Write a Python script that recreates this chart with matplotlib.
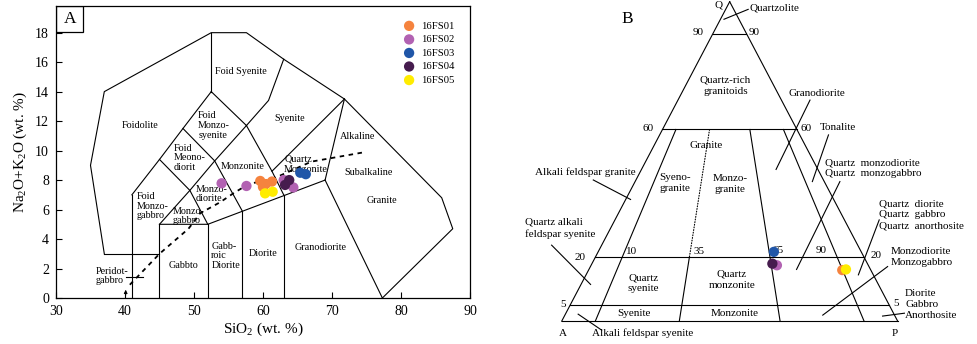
import matplotlib
matplotlib.use("Agg")
import matplotlib.pyplot as plt
from matplotlib.patches import Rectangle

plt.rcParams["font.family"] = ["Liberation Serif", "DejaVu Serif"]
plt.rcParams["mathtext.fontset"] = "custom"
plt.rcParams["mathtext.rm"] = "Liberation Serif"
plt.rcParams["mathtext.it"] = "Liberation Serif:italic"

samples = ["16FS01", "16FS02", "16FS03", "16FS04", "16FS05"]
colors  = ["#F5833E", "#B262B2", "#2056A8", "#461C4E", "#FFEC00"]

# TAS data (SiO2, Na2O+K2O) per sample
tas_sio2 = [
    [59.6, 60.4, 61.3, 60.0],
    [54.0, 57.6, 63.0, 64.4],
    [65.4, 66.2],
    [63.2, 63.8],
    [60.3, 61.4],
]
tas_alk = [
    [7.94, 7.73, 7.90, 7.53],
    [7.78, 7.60, 8.00, 7.50],
    [8.50, 8.40],
    [7.67, 8.00],
    [7.10, 7.21],
]

# QAP modal data (%)
qap_q = [16.0, 17.5, 21.7, 18.0, 16.2]
qap_a = [8.5, 27.2, 26.0, 28.3, 7.3]
qap_p = [75.5, 55.3, 52.3, 53.7, 76.5]

# TAS (Middlemost 1994, plutonic) field boundaries
tas_outline = [(37, 3), (35, 9), (37, 14), (52.5, 18), (57.6, 18), (63, 16.2),
               (71.8, 13.5), (85.9, 6.8), (87.5, 4.7), (77.3, 0)]
tas_lines = [
    [(41, 0), (41, 7)],
    [(37, 3), (45, 3)],
    [(45, 0), (45, 5)],
    [(52, 0), (52, 5)],
    [(57, 0), (57, 5.9)],
    [(63, 0), (63, 7)],
    [(45, 5), (52, 5), (69, 8)],
    [(69, 8), (77.3, 0)],
    [(69, 8), (71.8, 13.5)],
    [(57.6, 11.7), (61.3, 8.6), (63, 7)],
    [(61.3, 8.6), (71.8, 13.5)],
    [(57.6, 11.7), (60.8, 13.4), (63, 16.2)],
    [(52.5, 14), (52.5, 18)],
    [(52.5, 14), (57.6, 11.7)],
    [(52.5, 14), (48.4, 11.5), (45, 9.4), (41, 7)],
    [(48.4, 11.5), (53, 9.3), (57, 5.9)],
    [(57.6, 11.7), (53, 9.3), (49.4, 7.3), (45, 5)],
    [(45, 9.4), (49.4, 7.3), (52, 5)],
    [(40.2, 1.4), (42.6, 1.4)],
]
# alkaline / subalkaline divide
div_x = [40.7, 45.0, 49.2, 50.9, 53.8, 55.7, 57.1, 58.6, 61.5, 67.0, 74.8]
div_y = [0.9, 3.0, 4.7, 5.75, 6.5, 7.1, 7.5, 7.8, 8.1, 9.25, 9.9]

fig = plt.figure(figsize=(9.78, 3.44), dpi=100)

# ---------------- panel A : TAS ----------------
ax = fig.add_axes([56 / 978, 1 - 298 / 344, 414 / 978, 292 / 344])
ax.set_xlim(30, 90)
ax.set_ylim(0, 19.81)

ox, oy = zip(*tas_outline)
ax.plot(ox, oy, color="k", lw=0.8)
for seg in tas_lines:
    sx, sy = zip(*seg)
    ax.plot(sx, sy, color="k", lw=0.8)
ax.plot(div_x, div_y, color="k", lw=1.3, dashes=(2.5, 2.5))
ax.annotate("", xy=(40.1, 0.75), xytext=(40.1, 0.0),
            arrowprops=dict(arrowstyle="-|>", lw=0.7, color="k", mutation_scale=5))

fs = 7.3
lab = dict(fontsize=fs, va="center", linespacing=1.1)
ax.text(56.8, 15.4, "Foid Syenite", ha="center", **lab)
ax.text(42.2, 11.7, "Foidolite", ha="center", **lab)
ax.text(50.6, 11.7, "Foid\nMonzo-\nsyenite", ha="left", **lab)
ax.text(63.8, 12.2, "Syenite", ha="center", **lab)
ax.text(47.1, 9.5, "Foid\nMeono-\ndiorit", ha="left", **lab)
ax.text(57.1, 8.94, "Monzonite", ha="center", **lab)
ax.text(65.1, 9.42, "Quartz", ha="center", **lab)
ax.text(66.2, 8.72, "Monzonite", ha="center", **lab)
ax.text(73.7, 10.97, "Alkaline", ha="center", **lab)
ax.text(75.3, 8.5, "Subalkaline", ha="center", **lab)
ax.text(77.2, 6.63, "Granite", ha="center", **lab)
ax.text(68.4, 3.42, "Granodiorite", ha="center", **lab)
ax.text(60.0, 3.0, "Diorite", ha="center", **lab)
ax.text(52.5, 2.85, "Gabb-\nroic\nDiorite", ha="left", **lab)
ax.text(48.45, 2.2, "Gabbto", ha="center", **lab)
ax.text(35.8, 1.5, "Peridot-\ngabbro", ha="left", **lab)
ax.text(41.7, 6.24, "Foid\nMonzo-\ngabbro", ha="left", **lab)
ax.text(50.2, 7.06, "Monzo-\ndiorite", ha="left", **lab)
ax.text(46.9, 5.56, "Monzo-\ngabbro", ha="left", **lab)

for i in range(len(samples)):
    ax.scatter(tas_sio2[i], tas_alk[i], s=55, color=colors[i], edgecolors="none",
               label=samples[i], zorder=3 + i)

ax.legend(loc="upper left", bbox_to_anchor=(0.84, 0.948), frameon=False,
          fontsize=7.7, handlelength=1.0, handletextpad=0.6, labelspacing=0.38,
          borderpad=0, borderaxespad=0)

ax.set_xticks(range(30, 91, 10))
ax.set_yticks(range(0, 19, 2))
ax.tick_params(direction="in", length=4, width=0.8, labelsize=10, pad=5)
for sp in ax.spines.values():
    sp.set_linewidth(0.9)
ax.set_xlabel("SiO$_2$ (wt. %)", fontsize=11, labelpad=2)
ax.set_ylabel("Na$_2$O+K$_2$O (wt. %)", fontsize=11, labelpad=4)

ax.add_patch(Rectangle((0, 0.911), 0.065, 0.089, transform=ax.transAxes,
                       fill=False, lw=0.9, ec="k"))
ax.text(0.033, 0.955, "A", transform=ax.transAxes, ha="center", va="center",
        fontsize=12.5)

# ---------------- panel B : QAP ----------------
bx = fig.add_axes([500 / 978, 0, 478 / 978, 1])
bx.set_xlim(-0.1836, 1.239)
bx.set_ylim(-0.0714, 1.0053)
bx.axis("off")


def tern(q, a, p):
    s = q + a + p
    return (p + q / 2) / s, q / s


def qr(q, r):
    # point at quartz q (%) and plagioclase ratio r = P/(A+P)
    p = (100 - q) * r
    return tern(q, 100 - q - p, p)


def seg(q0, r0, q1, r1, **kw):
    x0, y0 = qr(q0, r0)
    x1, y1 = qr(q1, r1)
    bx.plot([x0, x1], [y0, y1], color="k", lw=0.8, **kw)


seg(100, 0, 0, 0)
seg(100, 1, 0, 1)
seg(0, 0, 0, 1)
for qq in [90, 60, 20, 5]:
    seg(qq, 0, qq, 1)
seg(60, 0.10, 0, 0.10)
seg(60, 0.35, 20, 0.35, linestyle=(0, (0.8, 1.6)), dash_capstyle="round")
seg(20, 0.35, 0, 0.35)
seg(60, 0.65, 0, 0.65)
seg(60, 0.90, 0, 0.90)

bl = dict(fontsize=8, va="center", linespacing=1.3)
bx.text(0.466, 1.004, "Q", ha="center", fontsize=8, va="top")
bx.text(0.003, -0.038, "A", ha="center", **bl)
bx.text(0.990, -0.038, "P", ha="center", **bl)
bx.text(0.196, 0.946, "B", ha="center", va="center", fontsize=12.5)

bx.text(0.558, 0.979, "Quartzolite", ha="left", **bl)
bx.text(0.407, 0.904, "90", ha="center", **bl)
bx.text(0.572, 0.904, "90", ha="center", **bl)
bx.text(0.256, 0.604, "60", ha="center", **bl)
bx.text(0.726, 0.604, "60", ha="center", **bl)
bx.text(0.054, 0.200, "20", ha="center", **bl)
bx.text(0.937, 0.207, "20", ha="center", **bl)
bx.text(0.003, 0.051, "5", ha="center", **bl)
bx.text(0.996, 0.056, "5", ha="center", **bl)
bx.text(0.208, 0.218, "10", ha="center", **bl)
bx.text(0.410, 0.218, "35", ha="center", **bl)
bx.text(0.645, 0.221, "65", ha="center", **bl)
bx.text(0.772, 0.221, "90", ha="center", **bl)

bx.text(0.487, 0.737, "Quartz-rich\ngranitoids", ha="center", **bl)
bx.text(0.759, 0.713, "Granodiorite", ha="center", **bl)
bx.text(0.767, 0.607, "Tonalite", ha="left", **bl)
bx.text(0.429, 0.549, "Granite", ha="center", **bl)
bx.text(0.337, 0.432, "Syeno-\ngranite", ha="center", **bl)
bx.text(0.501, 0.428, "Monzo-\ngranite", ha="center", **bl)
bx.text(0.069, 0.465, "Alkali feldspar granite", ha="center", **bl)
bx.text(-0.109, 0.291, "Quartz alkali\nfeldspar syenite", ha="left", **bl)
bx.text(0.784, 0.479, "Quartz  monzodiorite\nQuartz  monzogabbro", ha="left", **bl)
bx.text(0.945, 0.333, "Quartz  diorite\nQuartz  gabbro\nQuartz  anorthosite",
        ha="left", **bl)
bx.text(0.980, 0.202, "Monzodiorite\nMonzogabbro", ha="left", **bl)
bx.text(1.022, 0.051, "Diorite\nGabbro\nAnorthosite", ha="left", **bl)
bx.text(0.243, 0.119, "Quartz\nsyenite", ha="center", **bl)
bx.text(0.506, 0.129, "Quartz\nmonzonite", ha="center", **bl)
bx.text(0.216, 0.023, "Syenite", ha="center", **bl)
bx.text(0.514, 0.023, "Monzonite", ha="center", **bl)
bx.text(0.089, -0.038, "Alkali feldspar syenite", ha="left", **bl)

leaders = [
    [(0.483, 0.945), (0.555, 0.976)],
    [(0.739, 0.692), (0.638, 0.475)],
    [(0.794, 0.583), (0.746, 0.437)],
    [(0.094, 0.442), (0.205, 0.381)],
    [(-0.030, 0.238), (0.086, 0.115)],
    [(0.828, 0.437), (0.699, 0.162)],
    [(0.945, 0.317), (0.883, 0.145)],
    [(0.970, 0.171), (0.777, 0.019)],
    [(1.020, 0.025), (0.955, 0.016)],
    [(0.049, 0.022), (0.119, -0.028)],
]
for ld in leaders:
    lx, ly = zip(*ld)
    bx.plot(lx, ly, color="k", lw=0.8)

for i in range(len(samples)):
    x, y = tern(qap_q[i], qap_a[i], qap_p[i])
    bx.scatter([x], [y], s=55, color=colors[i], edgecolors="none", zorder=3 + i)

fig.savefig("out.png", dpi=100)
